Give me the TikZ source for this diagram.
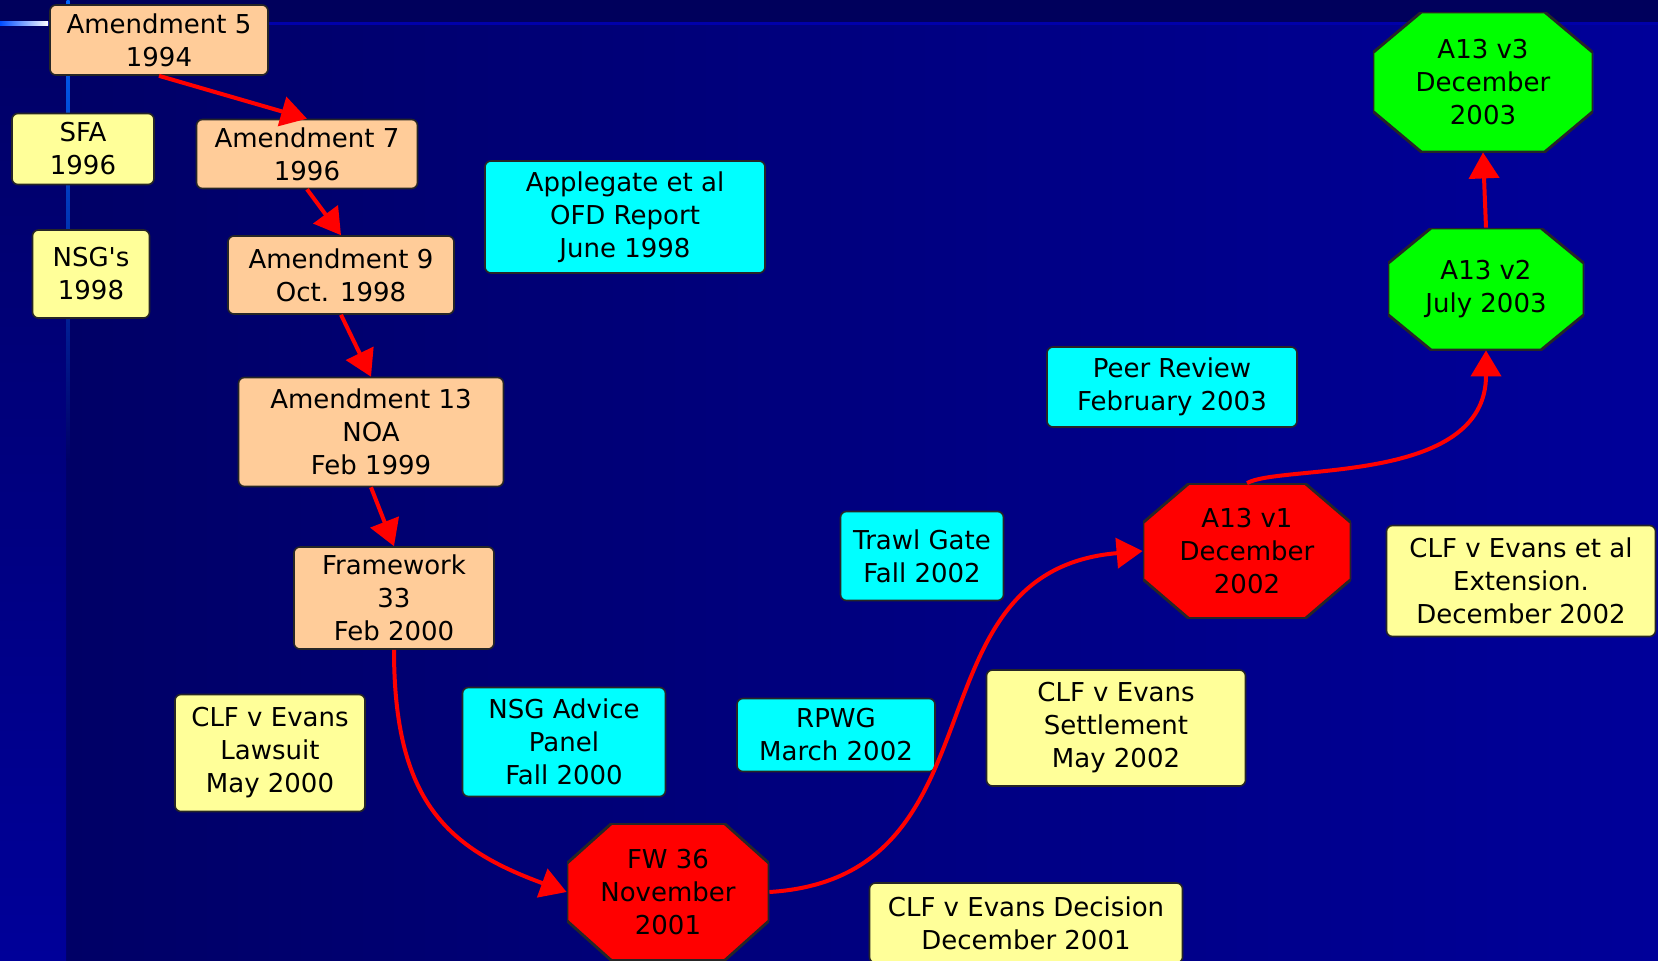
\documentclass[tikz,border=0pt]{standalone}
\usepackage{fontspec}
\setmainfont{DejaVu Sans}
\usepackage{tikz}
\usetikzlibrary{calc, arrows.meta}
\definecolor{peach}{HTML}{FFCC99}
\definecolor{paleyellow}{HTML}{FFFF99}
\definecolor{aqua}{HTML}{00FFFF}
\definecolor{lime}{HTML}{00FF00}
\definecolor{navy}{HTML}{000066}
\definecolor{slideblue}{HTML}{000099}
\definecolor{topband}{HTML}{00005C}
\definecolor{ruleblue}{HTML}{0000AA}
\tikzstyle{amend} = [rectangle, rounded corners=3pt, align=center, draw=black!85, line width=0.8pt, fill=peach, inner sep=0pt, font=\fontsize{13}{16.5}\selectfont]
\tikzstyle{court} = [rectangle, rounded corners=3pt, align=center, draw=black!85, line width=0.8pt, fill=paleyellow, inner sep=0pt, font=\fontsize{13}{16.5}\selectfont]
\tikzstyle{science} = [rectangle, rounded corners=3pt, align=center, draw=black!85, line width=0.8pt, fill=aqua, inner sep=0pt, font=\fontsize{13}{16.5}\selectfont]
\tikzset{octagon/.style={rectangle, align=center, inner sep=0pt, font=\fontsize{13}{16.5}\selectfont,
	path picture={\filldraw[fill=#1, draw=black!85, line width=1.4pt]
		let \p1=(path picture bounding box.south west), \p2=(path picture bounding box.north east),
		\n1={0.22*(\x2-\x1)}, \n2={0.29*(\y2-\y1)} in
		(\x1+\n1,\y1) -- (\x2-\n1,\y1) -- (\x2,\y1+\n2) -- (\x2,\y2-\n2) -- (\x2-\n1,\y2) -- (\x1+\n1,\y2) -- (\x1,\y2-\n2) -- (\x1,\y1+\n2) -- cycle;}}}
\tikzstyle{stopoct} = [octagon=red]
\tikzstyle{gooct} = [octagon=lime]
\tikzstyle{arrow} = [line width=2pt, red, -{Triangle[length=13pt, width=15pt]}]

\begin{document}
\begin{tikzpicture}[x=0.5pt, y=-0.5pt]
	\useasboundingbox (0,0) rectangle (1658,960);
	\clip (0,0) rectangle (1658,960);
	% slide background
	\shade[left color=navy, right color=slideblue] (66,23) rectangle (1658,960);
	\shade[top color=navy, bottom color=slideblue] (0,23) rectangle (66,960);
	\fill[topband] (0,0) rectangle (1658,22);
	\fill[ruleblue] (48,21.5) rectangle (1658,25);
	\shade[left color=blue!70!cyan, right color=white] (0,21.5) rectangle (48,25);
	\shade[top color=blue!60!cyan, bottom color=navy] (66.5,0) rectangle (69.5,460);

	% amendments
	\node(am5) [amend, minimum width=109pt, minimum height=35pt] at (159,40) {Amendment 5\\1994};
	\node(am7) [amend, minimum width=110.5pt, minimum height=34.5pt] at (307,154) {Amendment 7\\1996};
	\node(am9) [amend, minimum width=113pt, minimum height=39pt] at (341,275) {Amendment 9\\Oct. 1998};
	\node(am13) [amend, minimum width=132.5pt, minimum height=54.5pt] at (371,432) {Amendment 13\\NOA\\Feb 1999};
	\node(fw33) [amend, minimum width=100pt, minimum height=51pt] at (394,598) {Framework\\33\\Feb 2000};
	\node(fw36) [stopoct, minimum width=101pt, minimum height=68.5pt] at (668,892) {FW 36\\November\\2001};
	\node(v1) [stopoct, minimum width=104pt, minimum height=67.5pt] at (1247,551) {A13 v1\\December\\2002};
	\node(v2) [gooct, minimum width=98pt, minimum height=61pt] at (1486,289) {A13 v2\\July 2003};
	\node(v3) [gooct, minimum width=110pt, minimum height=70pt] at (1483,82) {A13 v3\\December\\2003};

	% other events
	\node(sfa) [court, minimum width=71pt, minimum height=35.5pt] at (83,149) {SFA\\1996};
	\node(nsgs) [court, minimum width=58.5pt, minimum height=44pt] at (91,274) {NSG\textquotesingle s\\1998};
	\node(applegate) [science, minimum width=140pt, minimum height=56pt] at (625,217) {Applegate et al\\OFD Report\\June 1998};
	\node(lawsuit) [court, minimum width=95pt, minimum height=58.5pt] at (270,753) {CLF v Evans\\Lawsuit\\May 2000};
	\node(advice) [science, minimum width=101.5pt, minimum height=54.5pt] at (564,742) {NSG Advice\\Panel\\Fall 2000};
	\node(rpwg) [science, minimum width=99pt, minimum height=36.5pt] at (836,735) {RPWG\\March 2002};
	\node(decision) [court, minimum width=156.5pt, minimum height=40pt] at (1026,923) {CLF v Evans Decision\\December 2001};
	\node(settlement) [court, minimum width=129.5pt, minimum height=58pt] at (1116,728) {CLF v Evans\\Settlement\\May 2002};
	\node(trawl) [science, minimum width=81.5pt, minimum height=44.5pt] at (922,556) {Trawl Gate\\Fall 2002};
	\node(extension) [court, minimum width=134.5pt, minimum height=55.5pt] at (1521,581) {CLF v Evans et al\\Extension.\\December 2002};
	\node(peer) [science, minimum width=125pt, minimum height=40pt] at (1172,387) {Peer Review\\February 2003};

	\draw[arrow] (am5.south) -- (am7.north);
	\draw[arrow] (am7.south) -- (am9.north);
	\draw[arrow] (am9.south) -- (am13.north);
	\draw[arrow] (am13.south) -- (fw33.north);
	\draw[arrow] (fw33.south) .. controls +(0,151) and +(-120,-44) .. (fw36.west);
	\draw[arrow] (fw36.east) .. controls +(240,-15) and +(-240,20) .. (v1.west);
	\draw[arrow] (v1.north) .. controls +(33,-19) and +(0,135) .. (v2.south);
	\draw[arrow] (v2.north) -- (v3.south);
\end{tikzpicture}
\end{document}
